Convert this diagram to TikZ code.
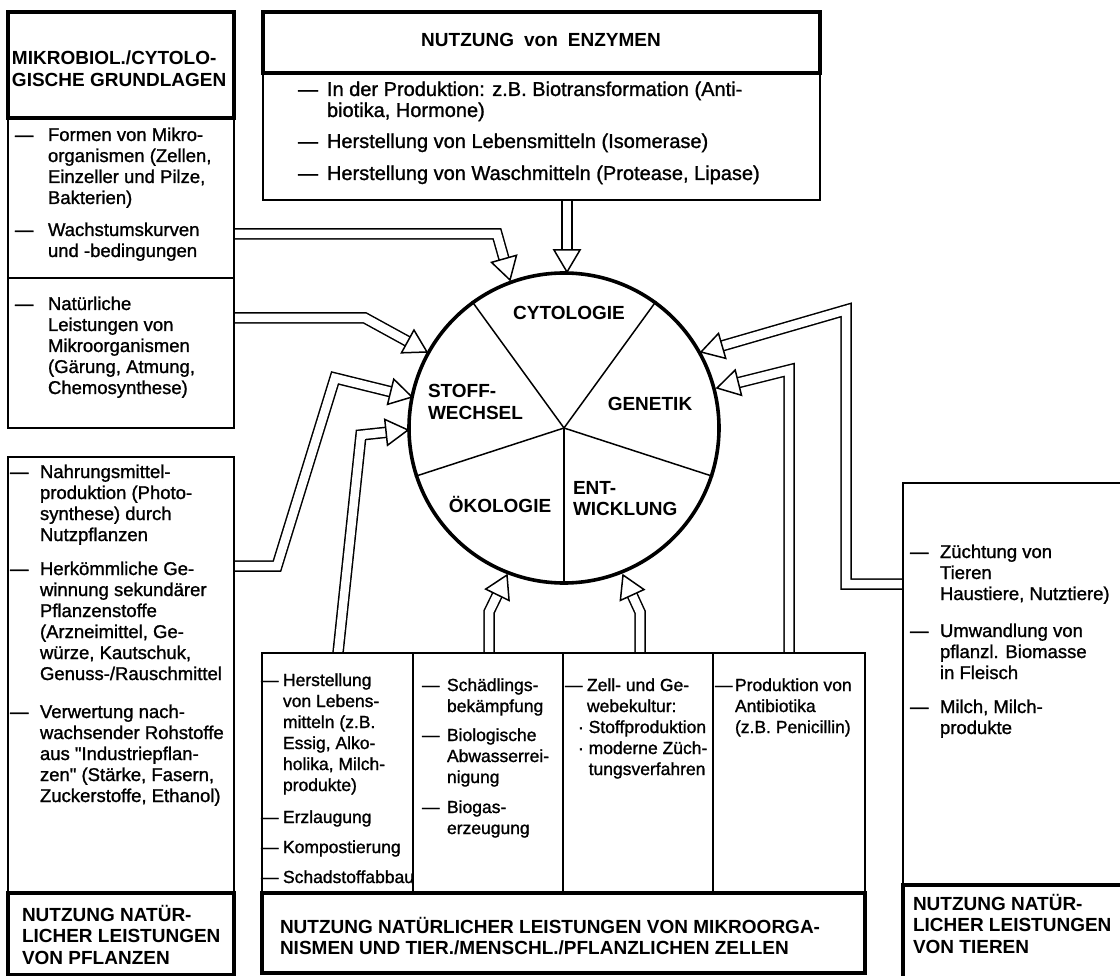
\documentclass[tikz,border=0pt]{standalone}
\usepackage{fontspec}
\newfontfamily\bodyfam{Liberation Sans}[RawFeature={embolden=1.2}]
\newfontfamily\hdrfam{Liberation Sans}
\usetikzlibrary{calc}
\newcommand\bodyfont{\bodyfam\fontsize{18.5pt}{21pt}\selectfont\lineskiplimit=-30pt\relax}
\newcommand\bigbody{\bodyfam\fontsize{20pt}{21pt}\selectfont\lineskiplimit=-30pt\relax}
\newcommand\smallbody{\bodyfam\fontsize{17.5pt}{21pt}\selectfont\lineskiplimit=-30pt\relax}
\newcommand\hdrfont{\hdrfam\bfseries\fontsize{19pt}{21.5pt}\selectfont\lineskiplimit=-30pt\relax}
\newcommand\mystrut{\rule{0pt}{18pt}}
\newcommand\harrow[3]{%
  \coordinate (#3b) at ($(#3)!22pt!(#2)$);
  \draw[shaft] #1 -- (#3b);
  \draw[tip] (#3) -- ($(#3b)!13pt!90:(#3)$) -- ($(#3b)!13pt!-90:(#3)$) -- cycle;}
\begin{document}
\begin{tikzpicture}[x=1pt,y=-1pt,
  txt/.style={anchor=north west, inner sep=0pt, outer sep=0pt, align=left, font=\bodyfont, yshift=18pt},
  stxt/.style={txt, font=\smallbody},
  btxt/.style={txt, font=\bigbody},
  htxt/.style={txt, font=\hdrfont},
  lbl/.style={anchor=base, inner sep=0pt, font=\hdrfont},
  thinbox/.style={draw, line width=1.8pt},
  headbox/.style={draw, line width=3.6pt},
  shaft/.style={draw, line width=1.5pt, double=white, double distance=8.5pt, line join=miter},
  tip/.style={draw, fill=white, line width=1.5pt, line join=miter},
  spoke/.style={draw, line width=1.5pt}]
\useasboundingbox (0,0) rectangle (1120,976);
\fill[white] (0,0) rectangle (1120,976);
\clip (0,0) rectangle (1120,976);

% ---------- circle ----------
\node[circle, draw, line width=3.6pt, minimum size=310pt, inner sep=0pt] (C) at (564,428) {};
\foreach \a in {270,342,54,126,198} \draw[spoke] (C.center) -- (C.\a);
\node[lbl] (l1) at (569,320) {CYTOLOGIE};
\node[lbl] (l2) at (650,410) {GENETIK};
\node[htxt] (l3) at (428,398) {\mystrut STOFF-\\WECHSEL};
\node[lbl] (l4) at (500,512) {ÖKOLOGIE};
\node[htxt] (l5) at (573,494) {\mystrut ENT-\\WICKLUNG};

% ---------- arrow coordinates ----------
\coordinate (a1s) at (234,234); \coordinate (a1c) at (497,234); \coordinate (a1t) at (510,280);
\coordinate (a2s) at (234,318); \coordinate (a2c) at (365,318); \coordinate (a2t) at (427,352);
\coordinate (a3s) at (234,566); \coordinate (a3c) at (277,566); \coordinate (a3d) at (335,378); \coordinate (a3t) at (412,397);
\coordinate (a4s) at (338,653); \coordinate (a4c) at (361,435); \coordinate (a4t) at (408,430);
\coordinate (a5s) at (489,653); \coordinate (a5c) at (489,612); \coordinate (a5t) at (507,575);
\coordinate (a6s) at (640,653); \coordinate (a6c) at (640,612); \coordinate (a6t) at (623,575);
\coordinate (a7s) at (567,200); \coordinate (a7t) at (567,272);
\coordinate (a8s) at (903,584); \coordinate (a8c) at (846,584); \coordinate (a8d) at (846,310); \coordinate (a8t) at (701,352);
\coordinate (a9s) at (789,653); \coordinate (a9c) at (789,370); \coordinate (a9t) at (717,388);

\harrow{(a1s) -- (a1c)}{a1c}{a1t}
\harrow{(a2s) -- (a2c)}{a2c}{a2t}
\harrow{(a3s) -- (a3c) -- (a3d)}{a3d}{a3t}
\harrow{(a4s) -- (a4c)}{a4c}{a4t}
\harrow{(a5s) -- (a5c)}{a5c}{a5t}
\harrow{(a6s) -- (a6c)}{a6c}{a6t}
\harrow{(a7s)}{a7s}{a7t}
\harrow{(a8s) -- (a8c) -- (a8d)}{a8d}{a8t}
\harrow{(a9s) -- (a9c)}{a9c}{a9t}

% ---------- top-left box ----------
\draw[thinbox] (8,12) rectangle (234,428);
\draw[thinbox] (8,278) -- (234,278);
\draw[headbox] (8,12) rectangle (234,118);
\node[htxt] (h1) at (12,65) {\mystrut MIKROBIOL./CYTOLO-\\GISCHE GRUNDLAGEN};
\node[txt] (d11) at (15,141) {\mystrut —};
\node[txt] (t11) at (48,141) {\mystrut Formen von Mikro-\\organismen (Zellen,\\Einzeller und Pilze,\\Bakterien)};
\node[txt] (d12) at (15,236) {\mystrut —};
\node[txt] (t12) at (48,236) {\mystrut Wachstumskurven\\und -bedingungen};
\node[txt] (d13) at (15,310) {\mystrut —};
\node[txt] (t13) at (48,310) {\mystrut Natürliche\\Leistungen von\\Mikroorganismen\\(Gärung, Atmung,\\Chemosynthese)};

% ---------- top centre box ----------
\draw[thinbox] (263,12) rectangle (820,200);
\draw[headbox] (263,12) rectangle (820,73);
\node[lbl] (h2) at (541,47) {NUTZUNG\hspace{10pt}von\hspace{10pt}ENZYMEN};
\node[btxt] (d21) at (298,96) {\mystrut —};
\node[btxt] (t21) at (327,96) {\mystrut In der Produktion: z.B. Biotransformation (Anti-\\biotika, Hormone)};
\node[btxt] (d22) at (298,148) {\mystrut —};
\node[btxt] (t22) at (327,148) {\mystrut Herstellung von Lebensmitteln (Isomerase)};
\node[btxt] (d23) at (298,180) {\mystrut —};
\node[btxt] (t23) at (327,180) {\mystrut Herstellung von Waschmitteln (Protease, Lipase)};

% ---------- bottom-left box ----------
\draw[thinbox] (8,457) rectangle (234,975);
\draw[headbox] (8,893) rectangle (234,975);
\node[txt] (d31) at (10,478) {\mystrut —};
\node[txt] (t31) at (40,478) {\mystrut Nahrungsmittel-\\produktion (Photo-\\synthese) durch\\Nutzpflanzen};
\node[txt] (d32) at (10,575) {\mystrut —};
\node[txt] (t32) at (40,575) {\mystrut Herkömmliche Ge-\\winnung sekundärer\\Pflanzenstoffe\\(Arzneimittel, Ge-\\würze, Kautschuk,\\Genuss-/Rauschmittel};
\node[txt] (d33) at (10,718) {\mystrut —};
\node[txt] (t33) at (40,718) {\mystrut Verwertung nach-\\wachsender Rohstoffe\\aus "Industriepflan-\\zen" (Stärke, Fasern,\\Zuckerstoffe, Ethanol)};
\node[htxt] (h3) at (22,921) {\mystrut NUTZUNG NATÜR-\\LICHER LEISTUNGEN\\VON PFLANZEN};

% ---------- bottom centre box ----------
\draw[thinbox] (262,653) rectangle (865,973);
\foreach \x in {413,563,713} \draw[thinbox] (\x,653) -- (\x,893);
\draw[headbox] (262,893) rectangle (865,973);
\node[htxt] (h4) at (280,933) {\mystrut NUTZUNG NATÜRLICHER LEISTUNGEN VON MIKROORGA-\\NISMEN UND TIER./MENSCHL./PFLANZLICHEN ZELLEN};
\node[stxt] (d41) at (261,686) {\mystrut —};
\node[stxt] (t41) at (283,686) {\mystrut Herstellung\\von Lebens-\\mitteln (z.B.\\Essig, Alko-\\holika, Milch-\\produkte)};
\node[stxt] (d42) at (261,823) {\mystrut —};
\node[stxt] (t42) at (283,823) {\mystrut Erzlaugung};
\node[stxt] (d43) at (261,853) {\mystrut —};
\node[stxt] (t43) at (283,853) {\mystrut Kompostierung};
\node[stxt] (d44) at (261,883) {\mystrut —};
\node[stxt] (t44) at (283,883) {\mystrut Schadstoffabbau};
\node[stxt] (d51) at (422,691) {\mystrut —};
\node[stxt] (t51) at (447,691) {\mystrut Schädlings-\\bekämpfung};
\node[stxt] (d52) at (422,741) {\mystrut —};
\node[stxt] (t52) at (447,741) {\mystrut Biologische\\Abwasserrei-\\nigung};
\node[stxt] (d53) at (422,813) {\mystrut —};
\node[stxt] (t53) at (447,813) {\mystrut Biogas-\\erzeugung};
\node[stxt] (d61) at (565,691) {\mystrut —};
\node[stxt] (t61) at (587,691) {\mystrut Zell- und Ge-\\webekultur:};
\node[stxt] (t62) at (578,733) {\mystrut · Stoffproduktion\\· moderne Züch-\\\hphantom{· }tungsverfahren};
\node[stxt] (d71) at (715,691) {\mystrut —};
\node[stxt] (t71) at (735,691) {\mystrut Produktion von\\Antibiotika\\(z.B. Penicillin)};

% ---------- right box ----------
\draw[thinbox] (903,483) rectangle (1130,990);
\draw[headbox] (903,885) rectangle (1130,990);
\node[txt] (d81) at (910,558) {\mystrut —};
\node[txt] (t81) at (940,558) {\mystrut Züchtung von\\Tieren\\Haustiere, Nutztiere)};
\node[txt] (d82) at (910,637) {\mystrut —};
\node[txt] (t82) at (940,637) {\mystrut Umwandlung von\\pflanzl. Biomasse\\in Fleisch};
\node[txt] (d83) at (910,713) {\mystrut —};
\node[txt] (t83) at (940,713) {\mystrut Milch, Milch-\\produkte};
\node[htxt] (h5) at (913,910) {\mystrut NUTZUNG NATÜR-\\LICHER LEISTUNGEN\\VON TIEREN};
\end{tikzpicture}
\end{document}
